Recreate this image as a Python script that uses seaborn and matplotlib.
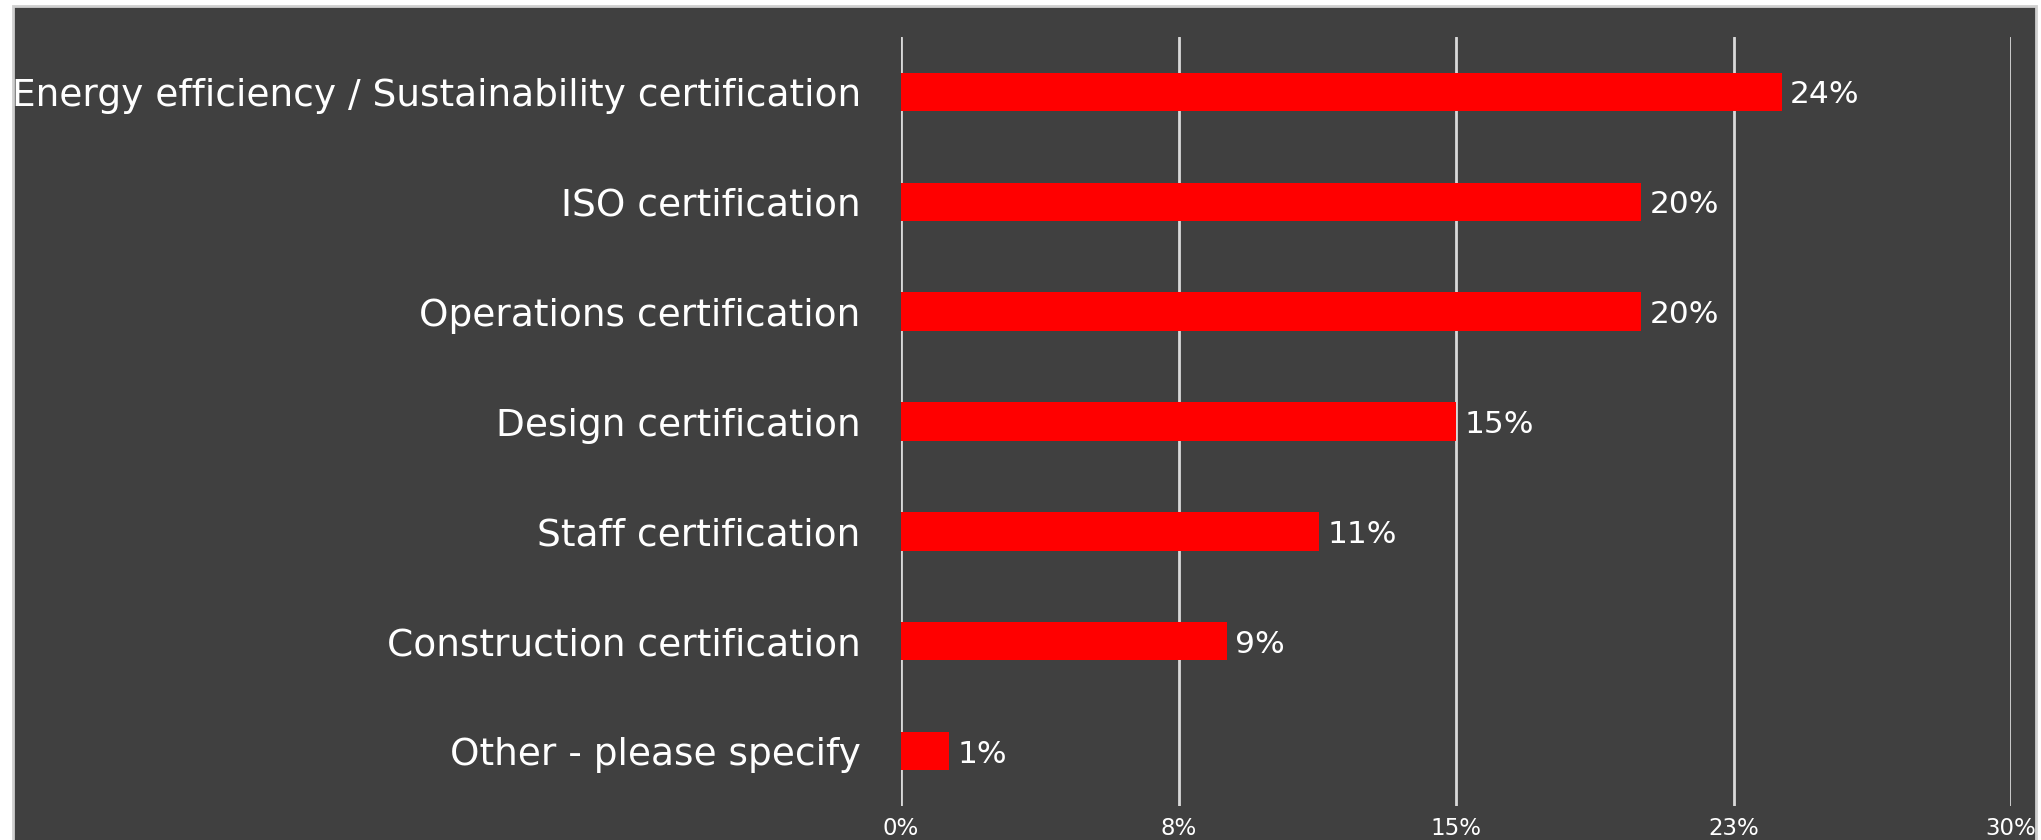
import matplotlib
matplotlib.use("Agg")
import matplotlib.pyplot as plt
from matplotlib.patches import Rectangle
import seaborn as sns
import pandas as pd

# === data ===
categories = [
    "Energy efficiency / Sustainability certification",
    "ISO certification",
    "Operations certification",
    "Design certification",
    "Staff certification",
    "Construction certification",
    "Other - please specify",
]
shares = [23.8, 20.0, 20.0, 15.0, 11.3, 8.8, 1.3]  # percent
tick_values = [0, 7.5, 15, 22.5, 30]
tick_labels = ["0%", "8%", "15%", "23%", "30%"]

df = pd.DataFrame({"Category": categories, "Share": shares})

# === style ===
sns.set_style("white")
plt.rcParams["font.family"] = ["DejaVu Sans"]

panel = "#404040"
grid_col = "#d9d9d9"

fig = plt.figure(figsize=(20.41, 8.4), dpi=100, facecolor="white")

# dark panel behind the chart
fig.patches.append(Rectangle((13 / 2041, -0.01), (2036 - 13) / 2041, (840 - 6) / 840 + 0.01,
                             transform=fig.transFigure, facecolor=panel,
                             edgecolor="#cfcfcf", linewidth=2, zorder=-5))

ax = fig.add_axes([901 / 2041, 34 / 840, 1110 / 2041, 769 / 840])
ax.set_facecolor("none")
ax.set_zorder(2)

sns.barplot(data=df, x="Share", y="Category", orient="h", color="#ff0000",
            width=0.35, saturation=1, linewidth=0, ax=ax, zorder=3)

ax.set_xlim(0, 30)
ax.set_ylim(6.5, -0.5)
ax.set_xticks(tick_values)
ax.set_xticklabels(tick_labels)
ax.xaxis.grid(True, color=grid_col, linewidth=2, zorder=0)
ax.set_axisbelow(True)
for s in ax.spines.values():
    s.set_visible(False)

ax.tick_params(axis="x", length=0, pad=8, labelsize=16.5, labelcolor="white")
ax.tick_params(axis="y", length=0, pad=29, labelsize=27, labelcolor="white")
ax.set_xlabel("")
ax.set_ylabel("")

# value labels
for i, v in enumerate(shares):
    ax.annotate(f"{v:.0f}%", (v, i), xytext=(6, 0), textcoords="offset points",
                va="center_baseline", ha="left", color="white", fontsize=22.5)

fig.savefig("out.png", dpi=100, facecolor="white")
